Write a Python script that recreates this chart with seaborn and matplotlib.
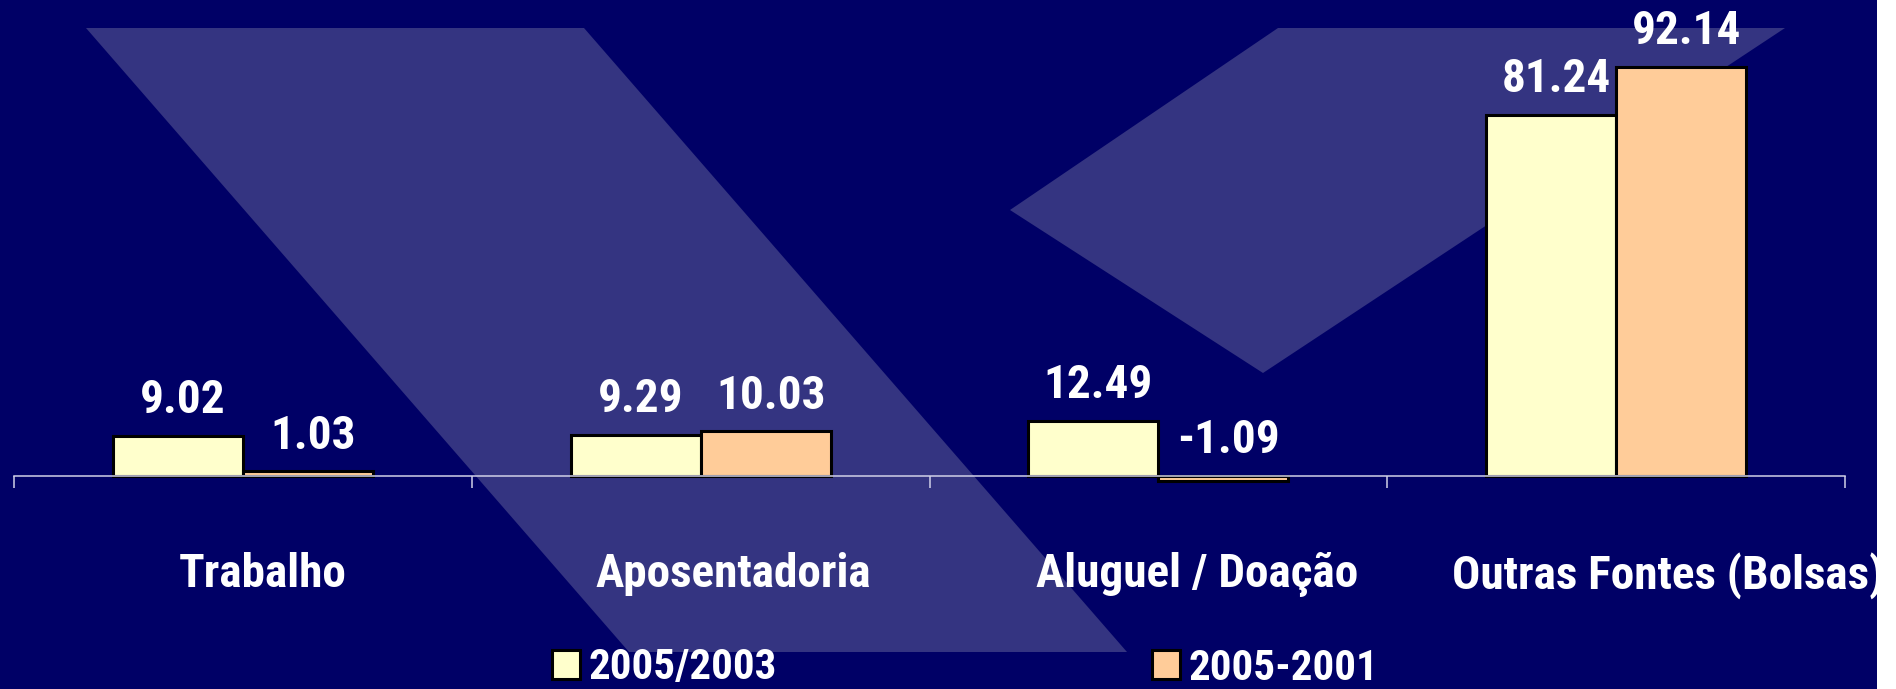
import matplotlib
matplotlib.use("Agg")
import matplotlib.pyplot as plt
import seaborn as sns
import pandas as pd
from matplotlib import font_manager
from matplotlib.patches import Polygon, Rectangle, Patch
from matplotlib.transforms import ScaledTranslation

# ---------------- data ----------------
categories = ["Trabalho", "Aposentadoria", "Aluguel / Doação", "Outras Fontes (Bolsas)"]
series_names = ["2005/2003", "2005-2001"]
values_2005_2003 = [9.02, 9.29, 12.49, 81.24]
values_2005_2001 = [1.03, 10.03, -1.09, 92.14]
series_colors = ["#FFFFCC", "#FFCC99"]

# ---------------- style ----------------
sns.set_theme(style="white")
available = {f.name for f in font_manager.fontManager.ttflist}
family = [f for f in ["Liberation Sans Narrow", "Arial Narrow", "Roboto Condensed",
                      "DejaVu Sans Condensed", "Liberation Sans"] if f in available]
family.append("DejaVu Sans")
plt.rcParams["font.family"] = family

W, H = 1896, 689
BG = "#000066"
SHAPE = "#343481"
AXIS = "#D0D0E8"

fig = plt.figure(figsize=(W / 100, H / 100), dpi=100, facecolor=BG)

# decorative background logo shapes (figure pixel coords)
left_shape = [(86, 28), (584, 28), (1127, 652), (629, 652)]
right_shape = [(1278, 28), (1785, 28), (1263, 373), (1010, 210)]
for shp in (left_shape, right_shape):
    pts = [(x / W, 1 - y / H) for x, y in shp]
    fig.add_artist(Polygon(pts, closed=True, transform=fig.transFigure,
                           facecolor=SHAPE, edgecolor="none", zorder=-1))

ax = fig.add_axes([14 / W, (H - 476) / H, (1845 - 14) / W, 476 / H])
ax.set_facecolor("none")

df = pd.DataFrame({
    "Categoria": categories * 2,
    "Série": [n for n in series_names for _ in categories],
    "Valor": values_2005_2003 + values_2005_2001,
})

sns.barplot(data=df, x="Categoria", y="Valor", hue="Série",
            order=categories, hue_order=series_names,
            palette=series_colors, saturation=1, width=0.568, gap=0,
            edgecolor="black", linewidth=2.2, errorbar=None,
            legend=False, ax=ax)

ax.set_xlim(-0.5, 3.5)
ax.set_ylim(0, 107.2)
for p in ax.patches:
    p.set_clip_on(False)

for s in ("left", "top", "right"):
    ax.spines[s].set_visible(False)
ax.spines["bottom"].set_color(AXIS)
ax.spines["bottom"].set_linewidth(1.1)
ax.set_yticks([])
ax.set_xlabel("")
ax.set_ylabel("")

ax.set_xticks(range(len(categories)))
ax.set_xticklabels(categories, fontsize=34, fontweight="bold", color="white")
ax.set_xticks([i - 0.5 for i in range(len(categories) + 1)], minor=True)
ax.tick_params(axis="x", which="major", length=0, pad=55, bottom=True)
ax.tick_params(axis="x", which="minor", length=8.6, width=1.1, color=AXIS,
               direction="out", bottom=True)

# value labels
for cont in ax.containers:
    for bar in cont:
        h = bar.get_height()
        x = bar.get_x() + bar.get_width() / 2
        ax.annotate(f"{h:.2f}", (x, max(h, 0)), xytext=(3.6, 16.5),
                    textcoords="offset points", ha="center", va="baseline",
                    fontsize=34, fontweight="bold", color="white",
                    annotation_clip=False)

# legend
handles = [Patch(facecolor=c, edgecolor="black", linewidth=2.2) for c in series_colors]
fig.legend(handles, series_names, loc="center",
           bbox_to_anchor=(965 / W, 1 - 668 / H), bbox_transform=fig.transFigure,
           ncol=2, frameon=False, prop={"size": 31, "weight": "bold"},
           labelcolor="white", handlelength=0.65, handleheight=0.65,
           handletextpad=0.2, columnspacing=8.7, borderpad=0, borderaxespad=0)

# white strip on the right edge
fig.add_artist(Rectangle((1877 / W, 0), (W - 1877) / W, 1, transform=fig.transFigure,
                         facecolor="white", edgecolor="none", zorder=10))

# slight rightward shift of category labels (as in the original rendering)
fig.canvas.draw()
for lbl in ax.get_xticklabels():
    w = lbl.get_window_extent().width
    lbl.set_transform(lbl.get_transform() +
                      ScaledTranslation(0.12 * w / fig.dpi, 0, fig.dpi_scale_trans))

fig.savefig("out.png", dpi=100, facecolor=fig.get_facecolor())
